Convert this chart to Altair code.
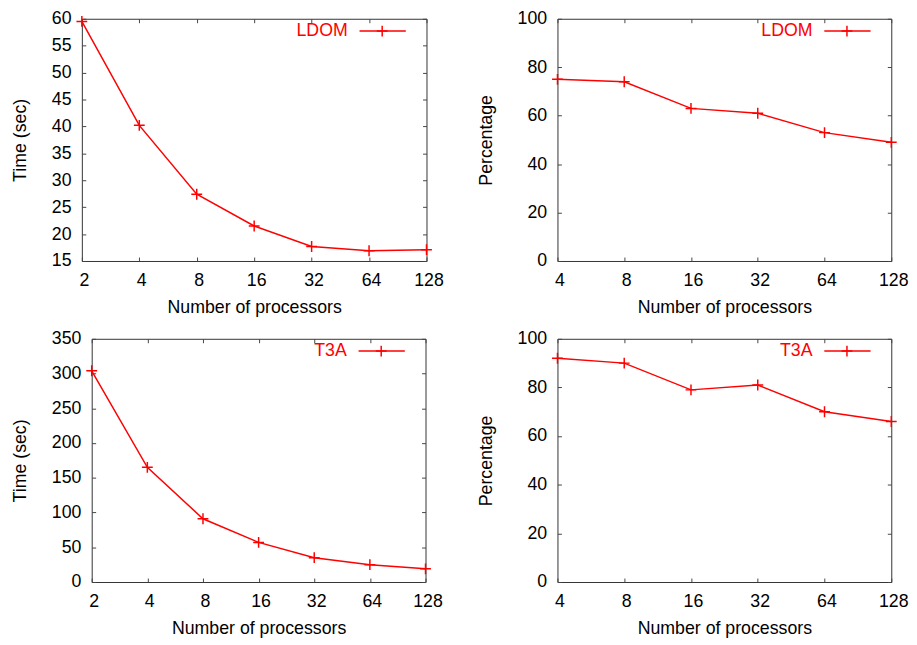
import altair as alt
import pandas as pd

# ---- data ----
procs_time = [2, 4, 8, 16, 32, 64, 128]
procs_pct = [4, 8, 16, 32, 64, 128]
ldom_time = [59.5, 40.2, 27.4, 21.5, 17.7, 16.9, 17.1]
ldom_pct = [75, 74, 63, 61, 53, 49]
t3a_time = [304, 165, 91, 57, 35, 25, 19]
t3a_pct = [92, 90, 79, 81, 70, 66]

x_ticks = [2, 4, 8, 16, 32, 64, 128]
y_ticks_ldom_time = [15, 20, 25, 30, 35, 40, 45, 50, 55, 60]
y_ticks_t3a_time = [0, 50, 100, 150, 200, 250, 300, 350]
y_ticks_pct = [0, 20, 40, 60, 80, 100]

RED = "#ff0000"
PLUS = "M-1,0H1M0,-1V1"
FONT = "Liberation Sans"
FS = 18


def panel(procs, values, name, xdom, ydom, yticks, ytitle, w, h,
          right_reach, left_reach):
    df = pd.DataFrame({"p": procs, "v": values})
    xs = alt.Scale(type="log", base=2, domain=xdom, nice=False)
    ys = alt.Scale(domain=ydom, nice=False, zero=False)
    xt = [t for t in x_ticks if xdom[0] <= t <= xdom[1]]
    base = alt.Chart(df)
    line = base.mark_line(color=RED, strokeWidth=1.5).encode(
        x=alt.X("p:Q", scale=xs,
                axis=alt.Axis(values=xt, format="d", title="Number of processors",
                              orient="bottom", labelPadding=11, titlePadding=9,
                              labelOffset=2)),
        y=alt.Y("v:Q", scale=ys,
                axis=alt.Axis(values=yticks, title=ytitle, orient="left",
                              labelPadding=11, titlePadding=22)),
    )
    pts = base.mark_point(shape=PLUS, filled=False, color=RED, strokeWidth=1.5,
                          size=121, opacity=1).encode(
        x=alt.X("p:Q", scale=xs,
                axis=alt.Axis(values=xt, orient="top", labels=False, title=None)),
        y=alt.Y("v:Q", scale=ys,
                axis=alt.Axis(values=yticks, orient="right", labels=False, title=None)),
    )
    leg = alt.Chart(pd.DataFrame({"name": [name]}))
    txt = leg.mark_text(color=RED, font=FONT, fontSize=FS, align="right",
                        baseline="middle").encode(
        text="name:N", x=alt.value(w - 80), y=alt.value(12.5))
    rule = leg.mark_rule(color=RED, strokeWidth=1.5).encode(
        x=alt.value(w - 68), x2=alt.value(w - 21), y=alt.value(12.5))
    lpt = leg.mark_point(shape=PLUS, filled=False, color=RED, strokeWidth=1.5,
                         size=121, opacity=1).encode(
        x=alt.value(w - 45), y=alt.value(12.5))
    # invisible rule that reserves room around the panel (layout only)
    gap = leg.mark_rule(opacity=0).encode(
        x=alt.value(left_reach), x2=alt.value(right_reach), y=alt.value(0))
    return (alt.layer(line, pts, txt, rule, lpt, gap)
            .resolve_axis(x="independent", y="independent")
            .properties(width=w, height=h))


def spacer():
    return (alt.Chart(pd.DataFrame({"a": [0]}))
            .mark_rule(opacity=0)
            .encode(x=alt.value(0), y=alt.value(0), y2=alt.value(1))
            .properties(width=1, height=1,
                        view=alt.ViewBackground(stroke="transparent")))


p1 = panel(procs_time, ldom_time, "LDOM", [2, 128], [15, 60], y_ticks_ldom_time,
           "Time (sec)", 350, 246, 390, 0)
p2 = panel(procs_pct, ldom_pct, "LDOM", [4, 128], [0, 100], y_ticks_pct,
           "Percentage", 339, 246, 339, -91)
p3 = panel(procs_time, t3a_time, "T3A", [2, 128], [0, 350], y_ticks_t3a_time,
           "Time (sec)", 339, 247, 339, 0)
p4 = panel(procs_pct, t3a_pct, "T3A", [4, 128], [0, 100], y_ticks_pct,
           "Percentage", 339, 247, 339, 0)

chart = (
    alt.concat(spacer(), p1, p2, spacer(), p3, p4, columns=3, align="none",
               spacing={"row": 12, "column": 0})
    .properties(padding={"left": 0, "top": -4, "right": 0, "bottom": 0})
    .configure_view(stroke="#333333", strokeWidth=1)
    .configure_axis(
        labelFont=FONT, titleFont=FONT, labelFontSize=FS, titleFontSize=FS,
        titleFontWeight="normal", labelColor="#000000", titleColor="#000000",
        grid=False, domain=False, ticks=True, tickColor="#444444", tickSize=4,
        tickWidth=1, offset=-4, labelFlush=False, labelOverlap=False,
    )
)

chart.save("out.html", embed_options={"renderer": "svg", "actions": False})
